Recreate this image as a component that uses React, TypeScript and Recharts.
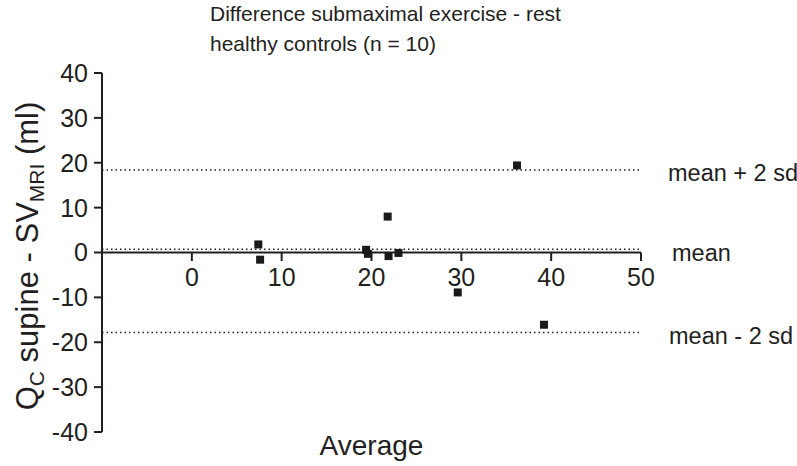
import { ReferenceLine, Scatter, ScatterChart, XAxis, YAxis } from "recharts";

const averages = [7.4, 7.6, 19.4, 19.6, 21.8, 21.9, 23.0, 29.6, 36.2, 39.2];
const differences = [1.8, -1.6, 0.6, -0.3, 8.0, -0.8, -0.1, -8.9, 19.4, -16.1];

const xTicks = [0, 10, 20, 30, 40, 50];
const yTicks = [-40, -30, -20, -10, 0, 10, 20, 30, 40];

const meanDiff = 0.7;
const upperLimit = 18.4;
const lowerLimit = -17.8;

const limitLines = [
  { y: upperLimit, label: "mean + 2 sd", dx: 0 },
  { y: meanDiff, label: "mean", dx: 4 },
  { y: lowerLimit, label: "mean - 2 sd", dx: 1 },
];

const points = averages.map((a, i) => ({ avg: a, diff: differences[i] }));

const FONT = "'Liberation Sans', Arial, sans-serif";
const INK = "#231f20";

function YLabel() {
  // rotated y title with subscripts
  return (
    <text
      x={38}
      y={256}
      transform="rotate(-90 38 256)"
      textAnchor="middle"
      fontFamily={FONT}
      fontSize={31}
      fill={INK}
    >
      Q
      <tspan fontSize={21} dy={6}>C</tspan>
      <tspan dy={-6}> supine - SV</tspan>
      <tspan fontSize={21} dy={6}>MRI</tspan>
      <tspan dy={-6}> (ml)</tspan>
    </text>
  );
}

export default function App() {
  return (
    <div style={{ position: "absolute", left: 0, top: 0, width: 797, height: 466, background: "#fff" }}>
      <div
        style={{
          position: "absolute",
          left: 210,
          top: 3,
          fontFamily: FONT,
          fontSize: 21,
          lineHeight: "30px",
          color: INK,
          whiteSpace: "nowrap",
        }}
      >
        <div style={{ height: 30, marginTop: -4 }}>Difference submaximal exercise - rest</div>
        <div style={{ height: 30 }}>healthy controls (n = 10)</div>
      </div>
      <ScatterChart width={797} height={466} margin={{ top: 73, right: 156, bottom: 34, left: 0 }}>
        <XAxis type="number" dataKey="avg" domain={[-10, 50]} hide />
        <YAxis
          type="number"
          dataKey="diff"
          domain={[-40, 40]}
          ticks={yTicks}
          interval={0}
          width={102}
          axisLine={{ stroke: INK, strokeWidth: 2 }}
          tickLine={{ stroke: INK, strokeWidth: 2 }}
          tickSize={8}
          tickMargin={6}
          tick={{ fill: INK, fontSize: 25, fontFamily: FONT }}
          label={<YLabel />}
        />
        {limitLines.map((l) => (
          <ReferenceLine
            key={l.label}
            y={l.y}
            stroke={INK}
            strokeWidth={1.5}
            strokeDasharray="1.5 3"
            label={{
              value: l.label,
              position: "right",
              offset: 27 + l.dx,
              fill: INK,
              fontSize: 23.5,
              fontFamily: FONT,
              dy: 3,
            }}
          />
        ))}
        <ReferenceLine
          segment={[
            { x: -10, y: 0 },
            { x: 50, y: 0 },
          ]}
          stroke={INK}
          strokeWidth={2}
        />
        {xTicks.map((t) => (
          <ReferenceLine
            key={t}
            segment={[
              { x: t, y: 0 },
              { x: t, y: -1.9 },
            ]}
            stroke={INK}
            strokeWidth={2}
            label={{ value: String(t), position: "bottom", offset: 7, fill: INK, fontSize: 25, fontFamily: FONT }}
          />
        ))}
        <Scatter data={points} fill="#1a1a1a" shape="square" legendType="none" isAnimationActive={false} />
      </ScatterChart>
      <div
        style={{
          position: "absolute",
          left: 0,
          width: 743,
          top: 430,
          textAlign: "center",
          fontFamily: FONT,
          fontSize: 28,
          lineHeight: "32px",
          color: INK,
        }}
      >
        Average
      </div>
    </div>
  );
}
